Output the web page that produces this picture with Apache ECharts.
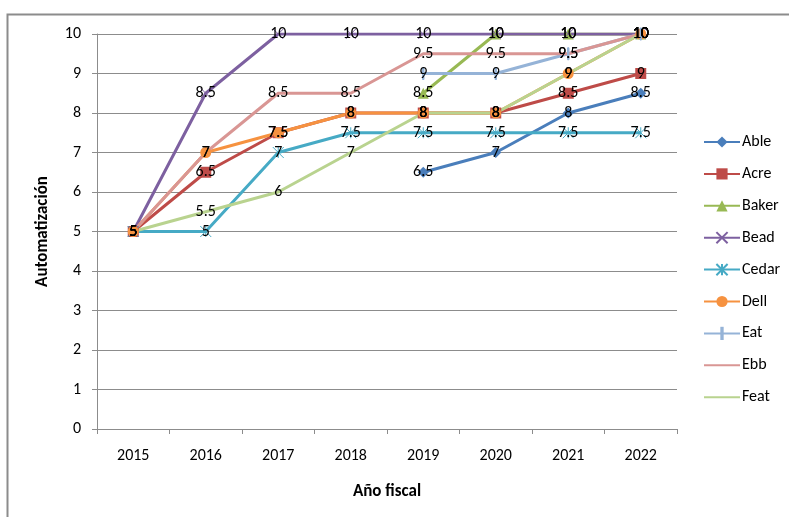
<!DOCTYPE html>
<html>
<head>
<meta charset="utf-8">
<script src="https://cdn.jsdelivr.net/npm/echarts@6/dist/echarts.min.js"></script>
<style>html,body{margin:0;padding:0;background:#fff;}#c{width:789px;height:517px;}</style>
</head>
<body>
<div id="c"></div>
<script>
var years = ['2015','2016','2017','2018','2019','2020','2021','2022'];
var seriesNames = ['Able','Acre','Baker','Bead','Cedar','Dell','Eat','Ebb','Feat'];
var able  = [null, null, null, null, 6.5, 7, 8, 8.5];
var acre  = [5, 6.5, 7.5, 8, 8, 8, 8.5, 9];
var baker = [null, null, null, null, 8.5, 10, 10, 10];
var bead  = [5, 8.5, 10, 10, 10, 10, 10, 10];
var cedar = [5, 5, 7, 7.5, 7.5, 7.5, 7.5, 7.5];
var dell  = [5, 7, 7.5, 8, 8, 8, 9, 10];
var eat   = [null, null, null, null, 9, 9, 9.5, 10];
var ebb   = [5, 7, 8.5, 8.5, 9.5, 9.5, 9.5, 10];
var feat  = [5, 5.5, 6, 7, 8, 8, 9, 10];
var yTicks = [0,1,2,3,4,5,6,7,8,9,10];

var values = [able, acre, baker, bead, cedar, dell, eat, ebb, feat];
var colors = ['#4A7EBB','#BE4B48','#98B954','#7D60A0','#46AAC5','#F69240','#95B3D7','#D99694','#B9D38F'];
var symbols = ['diamond','rect','triangle',
  'path://M0,0 L10,10 M10,0 L0,10',
  'path://M0,0 L10,10 M10,0 L0,10 M5,0 L5,10',
  'circle',
  'path://M0,0 M4.4,0 L5.6,0 L5.6,10 L4.4,10 Z M10,10',
  'circle','circle'];
var sizes = [11, 11, 11, 10, 11, 11, 12, 2, 2];
var hidden = [false,false,false,false,false,false,false,true,true];
var font = 'Carlito, Lato, "Liberation Sans", sans-serif';

var series = seriesNames.map(function(n, i){
  var isPath = symbols[i].indexOf('path://') === 0;
  var item;
  if (hidden[i]) item = {color: 'rgba(0,0,0,0)', borderColor: 'rgba(0,0,0,0)', borderWidth: 0};
  else if (isPath) item = {color: colors[i], borderColor: colors[i], borderWidth: 1};
  else item = {color: colors[i], borderColor: colors[i], borderWidth: 0};
  return {
    name: n,
    type: 'line',
    data: values[i],
    connectNulls: false,
    symbol: symbols[i],
    symbolSize: sizes[i],
    showSymbol: true,
    lineStyle: {width: 3, color: colors[i]},
    itemStyle: item,
    label: {
      show: true,
      position: 'inside',
      color: '#000',
      fontFamily: font,
      fontSize: 16,
      formatter: function(p){ return p.value; }
    },
    labelLayout: {hideOverlap: false},
    emphasis: {disabled: true},
    animation: false
  };
});

var legends = seriesNames.map(function(n, i){
  return {
    orient: 'vertical',
    left: 703,
    top: 134 + i * 31.9,
    itemWidth: 36,
    itemHeight: 14,
    itemGap: 0,
    padding: 0,
    selectedMode: false,
    textStyle: {fontFamily: font, fontSize: 16, color: '#000', padding: [0,0,0,-3]},
    data: [n]
  };
});

var chart = echarts.init(document.getElementById('c'));
chart.setOption({
  animation: false,
  color: colors,
  graphic: [{
    type: 'rect',
    shape: {x: 7.5, y: 14.5, width: 900, height: 600},
    style: {fill: 'none', stroke: '#8c8c8c', lineWidth: 2},
    silent: true
  }],
  grid: {left: 97, right: 112, top: 34, bottom: 88},
  legend: legends,
  xAxis: {
    type: 'category',
    data: years,
    boundaryGap: true,
    name: 'Año fiscal',
    nameLocation: 'middle',
    nameGap: 54,
    nameTextStyle: {fontFamily: font, fontSize: 17, fontWeight: 'bold', color: '#000'},
    axisLine: {lineStyle: {color: '#8c8c8c', width: 1}},
    axisTick: {show: true, length: 5, lineStyle: {color: '#8c8c8c'}},
    axisLabel: {fontFamily: font, fontSize: 16, color: '#000', margin: 19},
    splitLine: {show: false}
  },
  yAxis: {
    type: 'value',
    min: 0,
    max: 10,
    interval: 1,
    name: 'Automatización',
    nameLocation: 'middle',
    nameGap: 46,
    nameRotate: 90,
    nameTextStyle: {fontFamily: font, fontSize: 17, fontWeight: 'bold', color: '#000'},
    axisLine: {show: true, lineStyle: {color: '#8c8c8c', width: 1}},
    axisTick: {show: true, length: 5, lineStyle: {color: '#8c8c8c'}},
    axisLabel: {fontFamily: font, fontSize: 16, color: '#000', margin: 16,
      formatter: function(v){ return yTicks.indexOf(v) >= 0 ? String(v) : ''; }},
    splitLine: {show: true, lineStyle: {color: '#8c8c8c', width: 1}}
  },
  series: series
});
</script>
</body>
</html>
